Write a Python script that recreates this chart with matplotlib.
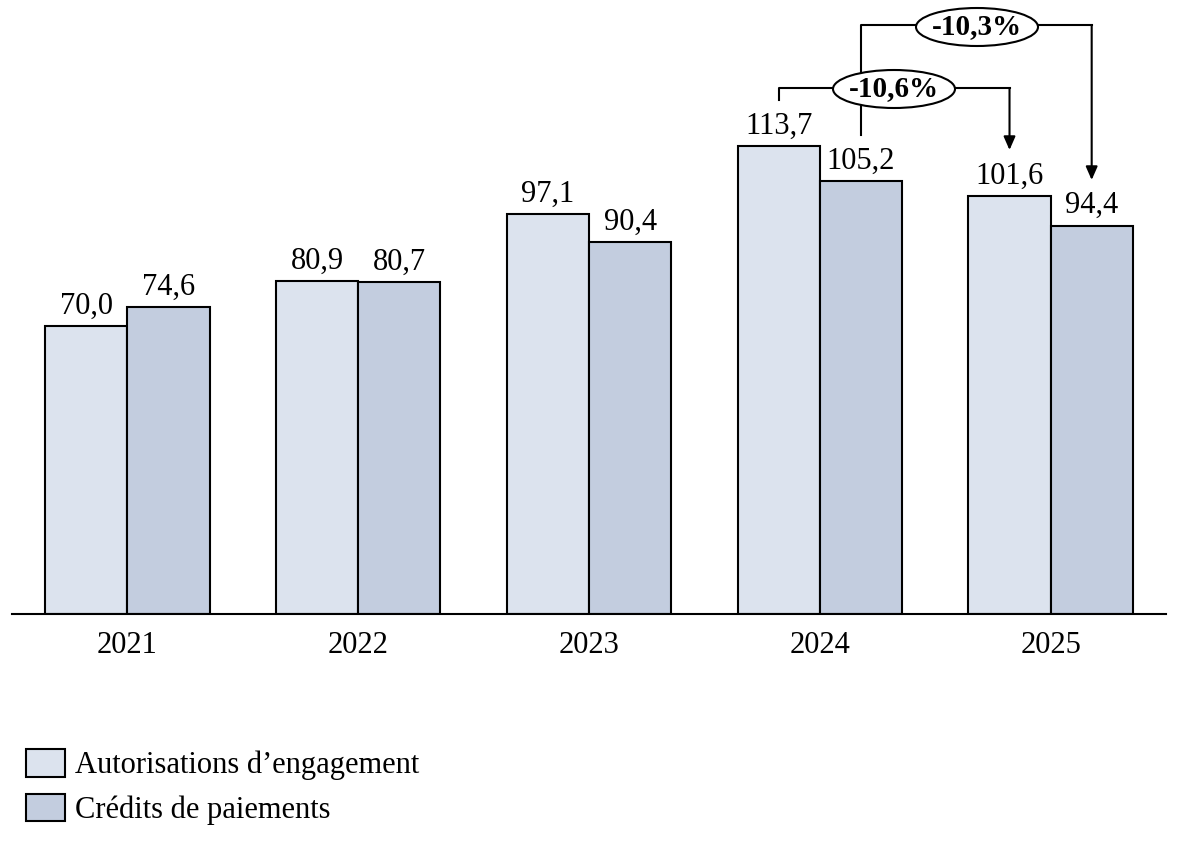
import matplotlib
matplotlib.use("Agg")
import matplotlib.pyplot as plt
from matplotlib.patches import Ellipse

plt.rcParams['font.family'] = ['Liberation Serif', 'DejaVu Serif']

years = ["2021", "2022", "2023", "2024", "2025"]
ae = [70.0, 80.9, 97.1, 113.7, 101.6]
cp = [74.6, 80.7, 90.4, 105.2, 94.4]
ae_labels = ["70,0", "80,9", "97,1", "113,7", "101,6"]
cp_labels = ["74,6", "80,7", "90,4", "105,2", "94,4"]
series_names = ["Autorisations d\u2019engagement", "Crédits de paiements"]
var_ae = "-10,6%"
var_cp = "-10,3%"

c_ae = "#DCE3EE"
c_cp = "#C3CDDF"

W, H = 1181, 841
fig = plt.figure(figsize=(W/100, H/100), dpi=100)
ax = fig.add_axes([12/W, (H-614)/H, (1166-12)/W, 614/H])
ymax = 614/4.115
ax.set_xlim(-0.5, 4.5)
ax.set_ylim(0, ymax)

bw = 0.356
x = list(range(len(years)))
xa = [i - bw/2 for i in x]
xc = [i + bw/2 for i in x]
b1 = ax.bar(xa, ae, width=bw, color=c_ae, edgecolor="black", linewidth=1.5, label=series_names[0])
b2 = ax.bar(xc, cp, width=bw, color=c_cp, edgecolor="black", linewidth=1.5, label=series_names[1])

fs = 22
for xi, v, t in zip(xa, ae, ae_labels):
    ax.annotate(t, (xi, v), xytext=(0, 4), textcoords="offset points",
                ha="center", va="bottom", fontsize=fs)
for xi, v, t in zip(xc, cp, cp_labels):
    ax.annotate(t, (xi, v), xytext=(0, 4), textcoords="offset points",
                ha="center", va="bottom", fontsize=fs)

for s in ["top", "right", "left"]:
    ax.spines[s].set_visible(False)
ax.spines["bottom"].set_linewidth(1.5)
ax.set_yticks([])
ax.set_xticks(x)
ax.set_xticklabels(years, fontsize=fs)
ax.tick_params(axis="x", length=0, pad=12)

def py(p):
    return (614 - p) / 4.115

lw = 1.5
# lower bracket (AE 2024 -> AE 2025)
yl = py(88)
ax.plot([xa[3], xa[3], xa[4]], [py(100), yl, yl], color="black", lw=lw, clip_on=False)
ax.annotate("", xy=(xa[4], py(150)), xytext=(xa[4], yl),
            arrowprops=dict(arrowstyle="-|>,head_length=0.8,head_width=0.35", color="black", lw=lw,
                            shrinkA=0, shrinkB=0), annotation_clip=False)
# upper bracket (CP 2024 -> CP 2025)
yu = py(25)
ax.plot([xc[3], xc[3], xc[4]], [py(135), yu, yu], color="black", lw=lw, clip_on=False)
ax.annotate("", xy=(xc[4], py(180)), xytext=(xc[4], yu),
            arrowprops=dict(arrowstyle="-|>,head_length=0.8,head_width=0.35", color="black", lw=lw,
                            shrinkA=0, shrinkB=0), annotation_clip=False)

def ell(cx_px, cy_px, w_px, h_px, text):
    cx = (cx_px - 12) / ((1166-12)/5) - 0.5
    e = Ellipse((cx, py(cy_px)), w_px/((1166-12)/5), h_px/4.115,
                facecolor="white", edgecolor="black", lw=lw, clip_on=False, zorder=5)
    ax.add_patch(e)
    ax.text(cx, py(cy_px), text, ha="center", va="center", fontsize=21,
            fontweight="bold", zorder=6)

ell(894, 89, 122, 38, var_ae)
ell(977, 27, 122, 38, var_cp)

leg = fig.legend(handles=[b1, b2], labels=series_names, loc="upper left",
                 bbox_to_anchor=(14/W, 1 - 737/H), frameon=False, fontsize=fs,
                 handlelength=1.28, handleheight=1.0, handletextpad=0.33,
                 labelspacing=0.45, borderaxespad=0)

fig.savefig("out.png", dpi=100)
